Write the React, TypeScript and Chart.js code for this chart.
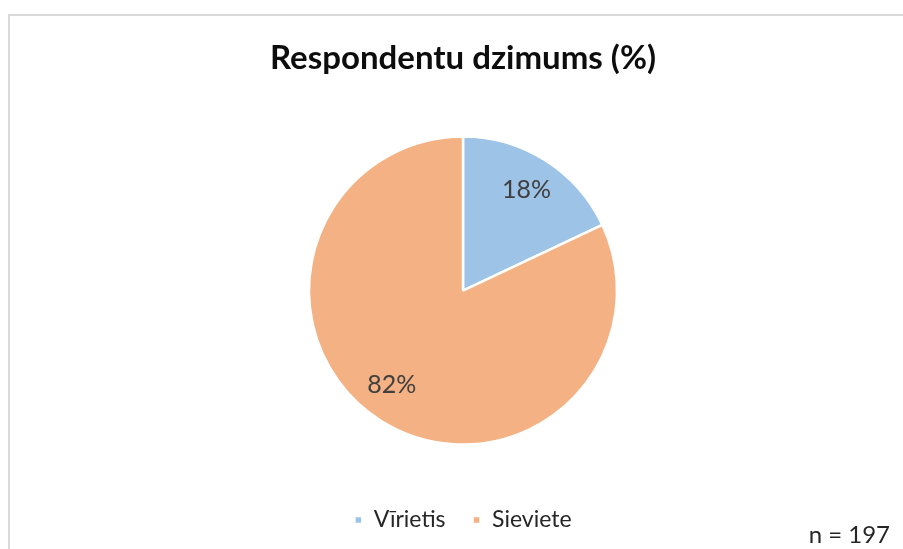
import React, { useEffect, useRef } from "react";
import { Chart, registerables } from "chart.js";

Chart.register(...registerables);

const categories = ["Vīrietis", "Sieviete"];
const values = [18, 82];
const colors = ["#9DC3E6", "#F4B183"];
const titleText = "Respondentu dzimums (%)";
const noteText = "n = 197";

const FONT = "Lato, 'Open Sans', sans-serif";
const labelAngleShiftDeg = [0, 4.5];

const framePlugin = {
  id: "frame",
  beforeDraw(chart: any) {
    const ctx = chart.ctx;
    ctx.save();
    ctx.fillStyle = "#ffffff";
    ctx.fillRect(0, 0, chart.width, chart.height);
    ctx.strokeStyle = "#D9D9D9";
    ctx.lineWidth = 2;
    ctx.beginPath();
    ctx.moveTo(9, chart.height + 5);
    ctx.lineTo(9, 15);
    ctx.lineTo(chart.width + 5, 15);
    ctx.stroke();
    ctx.restore();
  },
};

const labelPlugin = {
  id: "pctLabels",
  afterDatasetsDraw(chart: any) {
    const ctx = chart.ctx;
    const meta = chart.getDatasetMeta(0);
    ctx.save();
    ctx.font = `25px ${FONT}`;
    ctx.fillStyle = "#404040";
    ctx.textAlign = "center";
    ctx.textBaseline = "middle";
    meta.data.forEach((arc: any, i: number) => {
      const p = arc.getProps(["x", "y", "startAngle", "endAngle", "outerRadius"], true);
      const mid = (p.startAngle + p.endAngle) / 2 + (labelAngleShiftDeg[i] * Math.PI) / 180;
      const r = p.outerRadius * 0.77;
      ctx.fillText(`${values[i]}%`, p.x + Math.cos(mid) * r, p.y + Math.sin(mid) * r);
    });
    ctx.font = `24px ${FONT}`;
    ctx.fillStyle = "#262626";
    ctx.textAlign = "right";
    ctx.textBaseline = "alphabetic";
    ctx.fillText(noteText, 890, 543);
    ctx.restore();
  },
};

export default function App() {
  const ref = useRef<HTMLCanvasElement | null>(null);
  useEffect(() => {
    if (!ref.current) return;
    const chart = new Chart(ref.current, {
      type: "pie",
      data: {
        labels: categories,
        datasets: [
          {
            data: values,
            backgroundColor: colors,
            borderColor: "#ffffff",
            borderWidth: 2.5,
            radius: 154,
          },
        ],
      },
      options: {
        animation: false,
        responsive: false,
        devicePixelRatio: 1,
        layout: { padding: { left: 23, right: 0, top: 0, bottom: 7.5 } },
        plugins: {
          title: {
            display: true,
            text: titleText,
            color: "#0d0d0d",
            font: { family: FONT, size: 33, weight: "bold" },
            padding: { top: 38.5, bottom: 21.5 },
          },
          legend: {
            display: true,
            position: "bottom",
            labels: {
              boxWidth: 8,
              boxHeight: 8,
              padding: 27,
              color: "#262626",
              font: { family: FONT, size: 23 },
            },
          },
          tooltip: { enabled: false },
        },
      },
      plugins: [framePlugin, labelPlugin],
    });
    return () => chart.destroy();
  }, []);
  return (
    <div style={{ position: "absolute", left: 0, top: 0, width: 903, height: 549, overflow: "hidden" }}>
      <canvas ref={ref} width={903} height={549} style={{ width: 903, height: 549, display: "block" }} />
    </div>
  );
}
